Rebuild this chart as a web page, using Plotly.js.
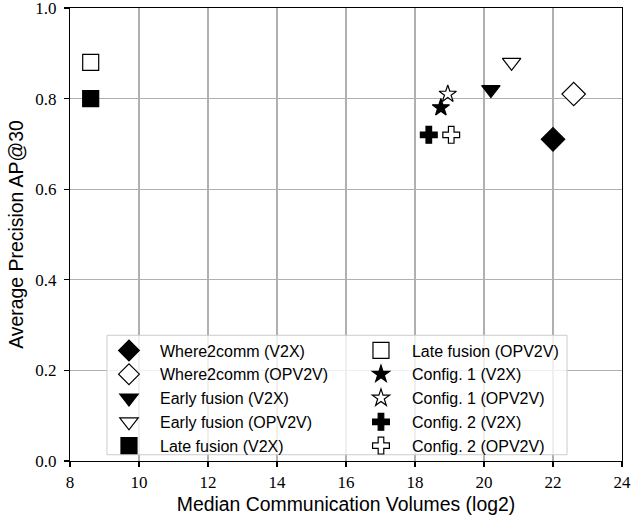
<!DOCTYPE html>
<html>
<head>
<meta charset="utf-8">
<script src="https://cdn.plot.ly/plotly-3.0.1.min.js"></script>
<style>html,body{margin:0;padding:0;background:#fff;}#chart{width:631px;height:525px;}</style>
</head>
<body>
<div id="chart"></div>
<script>
// Data
const names = [
  "Where2comm (V2X)", "Where2comm (OPV2V)",
  "Early fusion (V2X)", "Early fusion (OPV2V)",
  "Late fusion (V2X)", "Late fusion (OPV2V)",
  "Config. 1 (V2X)", "Config. 1 (OPV2V)",
  "Config. 2 (V2X)", "Config. 2 (OPV2V)"
];
const commVolume = [22.0, 22.6, 20.2, 20.8, 8.6, 8.6, 18.75, 18.95, 18.4, 19.05];
const apAt30 = [0.71, 0.81, 0.82, 0.88, 0.80, 0.88, 0.78, 0.81, 0.72, 0.72];
const symbols = ["diamond", "diamond", "triangle-down", "triangle-down", "square", "square", "star", "star", "cross", "cross"];
const filled = [true, false, true, false, true, false, true, false, true, false];
const xTicks = [8, 10, 12, 14, 16, 18, 20, 22, 24];
const yTicks = [0.0, 0.2, 0.4, 0.6, 0.8, 1.0];
const yTickText = ["0.0", "0.2", "0.4", "0.6", "0.8", "1.0"];

const sizeBySymbol = {"diamond": 18, "triangle-down": 16, "square": 16, "star": 13, "cross": 14};

const traces = names.map((n, i) => ({
  type: "scatter",
  mode: "markers",
  name: n,
  x: [commVolume[i]],
  y: [apAt30[i]],
  legend: i < 5 ? "legend" : "legend2",
  marker: {
    symbol: symbols[i],
    size: sizeBySymbol[symbols[i]],
    color: filled[i] ? "#000000" : "#ffffff",
    line: {color: "#000000", width: 1.2}
  },
  hoverinfo: "x+y+name"
}));

const tickFont = {family: "Liberation Serif, Times New Roman, serif", size: 17, color: "#000"};
const titleFont = {family: "Liberation Sans, Arial, Helvetica, sans-serif", size: 19.4, color: "#000"};
const legendFont = {family: "Liberation Sans, Arial, Helvetica, sans-serif", size: 16, color: "#000"};

const layout = {
  width: 631,
  height: 525,
  margin: {l: 70, r: 9, t: 7.5, b: 64, pad: 0},
  paper_bgcolor: "#ffffff",
  plot_bgcolor: "#ffffff",
  showlegend: true,
  xaxis: {
    range: [8, 24],
    tickmode: "array",
    tickvals: xTicks,
    ticktext: xTicks.map(String),
    showgrid: true,
    gridcolor: "#b0b0b0",
    gridwidth: 1.1,
    zeroline: false,
    showline: true,
    linecolor: "#000",
    linewidth: 1.1,
    mirror: true,
    ticks: "outside",
    ticklen: 5,
    tickwidth: 1.1,
    tickcolor: "#000",
    tickfont: tickFont,
    ticklabeloverflow: "allow",
    title: {text: "Median Communication Volumes (log2)", font: titleFont, standoff: 6},
    automargin: false
  },
  yaxis: {
    range: [0, 1.0],
    tickmode: "array",
    tickvals: yTicks,
    ticktext: yTickText,
    showgrid: true,
    gridcolor: "#b0b0b0",
    gridwidth: 1.1,
    zeroline: false,
    showline: true,
    linecolor: "#000",
    linewidth: 1.1,
    mirror: true,
    ticks: "outside",
    ticklen: 5,
    tickwidth: 1.1,
    tickcolor: "#000",
    tickfont: tickFont,
    ticklabelstandoff: 4,
    ticklabeloverflow: "allow",
    title: {text: "Average Precision AP@30", font: titleFont, standoff: 6},
    automargin: false
  },
  legend: {
    x: 0.0507, y: 0.2815, xanchor: "left", yanchor: "top",
    xref: "paper", yref: "paper",
    bgcolor: "rgba(0,0,0,0)", borderwidth: 0,
    font: legendFont, itemwidth: 52, orientation: "v",
    itemclick: false, itemdoubleclick: false
  },
  legend2: {
    x: 0.5072, y: 0.2815, xanchor: "left", yanchor: "top",
    xref: "paper", yref: "paper",
    bgcolor: "rgba(0,0,0,0)", borderwidth: 0,
    font: legendFont, itemwidth: 52, orientation: "v",
    itemclick: false, itemdoubleclick: false
  },
  shapes: [{
    type: "rect", xref: "paper", yref: "paper",
    x0: 0.067, x1: 0.9004, y0: 0.0138, y1: 0.2775,
    fillcolor: "rgba(255,255,255,0.8)",
    line: {color: "#cccccc", width: 1},
    layer: "above"
  }]
};

Plotly.newPlot("chart", traces, layout, {displayModeBar: false, staticPlot: true});
</script>
</body>
</html>
